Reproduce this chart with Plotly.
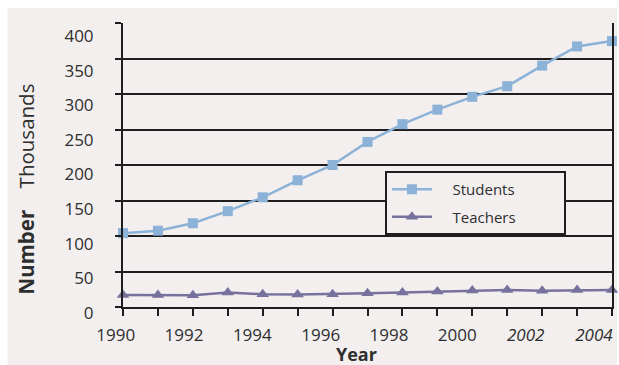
import plotly.graph_objects as go

# ---- data ----
years = list(range(1990, 2005))
students = [104, 107.5, 118, 135, 154.5, 178.5, 200, 232.5, 257.5, 278, 296, 311, 340, 367, 374.5]
teachers = [17, 17, 16.7, 20.5, 18, 17.5, 18, 19.5, 20.5, 22, 23.3, 24, 23, 24, 24]

x_label_years = [1990, 1992, 1994, 1996, 1998, 2000, 2002, 2004]
x_label_text = ["1990", "1992", "1994", "1996", "1998", "2000", "<i>2002</i>", "<i>2004</i>"]
y_tick_values = [0, 50, 100, 150, 200, 250, 300, 350, 400]
y_tick_text = [str(v) for v in y_tick_values]
series_names = ["Students", "Teachers"]

# ---- layout geometry ----
W, H = 619, 365
L, R, T, B = 123, 5, 23, 58
pw, ph = W - L - R, H - T - B

# labels in the original are printed on a slightly compressed scale
X_LABEL_SCALE = 0.978
Y_LABEL_SCALE = 0.975
x_label_pos = [1990.02 + (y - 1990) * X_LABEL_SCALE for y in x_label_years]
y_label_pos = [v * Y_LABEL_SCALE + 0.2 for v in y_tick_values]

BG = "#f2efee"
AX = "#1e1e1e"
TXT = "#2e2e2e"
FONT = "Open Sans"
PAD = "\u00a0" * 4
TAIL = "\u00a0" * 11

fig = go.Figure()
fig.add_trace(go.Scatter(
    x=years, y=students, name=PAD + series_names[0] + TAIL, mode="lines+markers",
    line=dict(color="#8cb2d8", width=2.5),
    marker=dict(symbol="square", size=10, color="#8cb2d8"),
    cliponaxis=False, legendgroup="s"))
fig.add_trace(go.Scatter(
    x=years, y=teachers, name=PAD + series_names[1] + TAIL, mode="lines+markers",
    line=dict(color="#77729d", width=2.5),
    marker=dict(symbol="triangle-up", size=11, color="#77729d"),
    cliponaxis=False, legendgroup="t"))

fig.update_layout(
    width=W, height=H,
    margin=dict(l=L, r=R, t=T, b=B),
    paper_bgcolor="white", plot_bgcolor=BG,
    font=dict(family=FONT, color=TXT),
    showlegend=True,
    legend=dict(x=(386 - L) / pw, y=1 - (171 - T) / ph, xanchor="left", yanchor="top",
                bgcolor=BG, bordercolor=AX, borderwidth=2,
                font=dict(size=15, color=TXT), tracegroupgap=5, itemwidth=40),
    xaxis=dict(range=[1990, 2004], showline=True, linecolor=AX, linewidth=2,
               showgrid=False, zeroline=False,
               tickmode="array", tickvals=x_label_pos, ticktext=x_label_text,
               ticks="", ticklabelshift=-8, ticklabelstandoff=12,
               tickfont=dict(size=17, color=TXT),
               minor=dict(tickmode="array", tickvals=years, ticks="outside",
                          ticklen=7, tickwidth=2, tickcolor=AX, showgrid=False)),
    yaxis=dict(range=[0, 400], showline=True, linecolor=AX, linewidth=2, mirror=True,
               showgrid=False, zeroline=False,
               tickmode="array", tickvals=y_label_pos, ticktext=y_tick_text,
               ticks="", ticklabelshift=6, ticklabelstandoff=24,
               tickfont=dict(size=17, color=TXT),
               minor=dict(tickmode="array", tickvals=y_tick_values, ticks="outside",
                          ticklen=6, tickwidth=2, tickcolor=AX,
                          showgrid=True, gridcolor=AX, gridwidth=1.6)),
    shapes=[dict(type="rect", xref="paper", yref="paper", layer="below",
                 x0=(7 - L) / pw, x1=(W - L) / pw, y0=(T + ph - H) / ph, y1=1 + (T - 8) / ph,
                 fillcolor=BG, line=dict(width=0))],
    annotations=[
        dict(text="<b>Year</b>", xref="paper", yref="paper", x=(357 - L) / pw,
             y=(T + ph - 354) / ph, xanchor="center", yanchor="middle",
             showarrow=False, font=dict(size=18, color=TXT)),
        dict(text="<b>Number</b>", xref="paper", yref="paper", x=(26 - L) / pw,
             y=(T + ph - 252) / ph, xanchor="center", yanchor="middle", textangle=-90,
             showarrow=False, font=dict(size=20.5, color=TXT)),
        dict(text="Thousands", xref="paper", yref="paper", x=(26 - L) / pw,
             y=(T + ph - 136) / ph, xanchor="center", yanchor="middle", textangle=-90,
             showarrow=False, font=dict(size=20.5, color=TXT)),
    ],
)

fig.write_html("out.html")
